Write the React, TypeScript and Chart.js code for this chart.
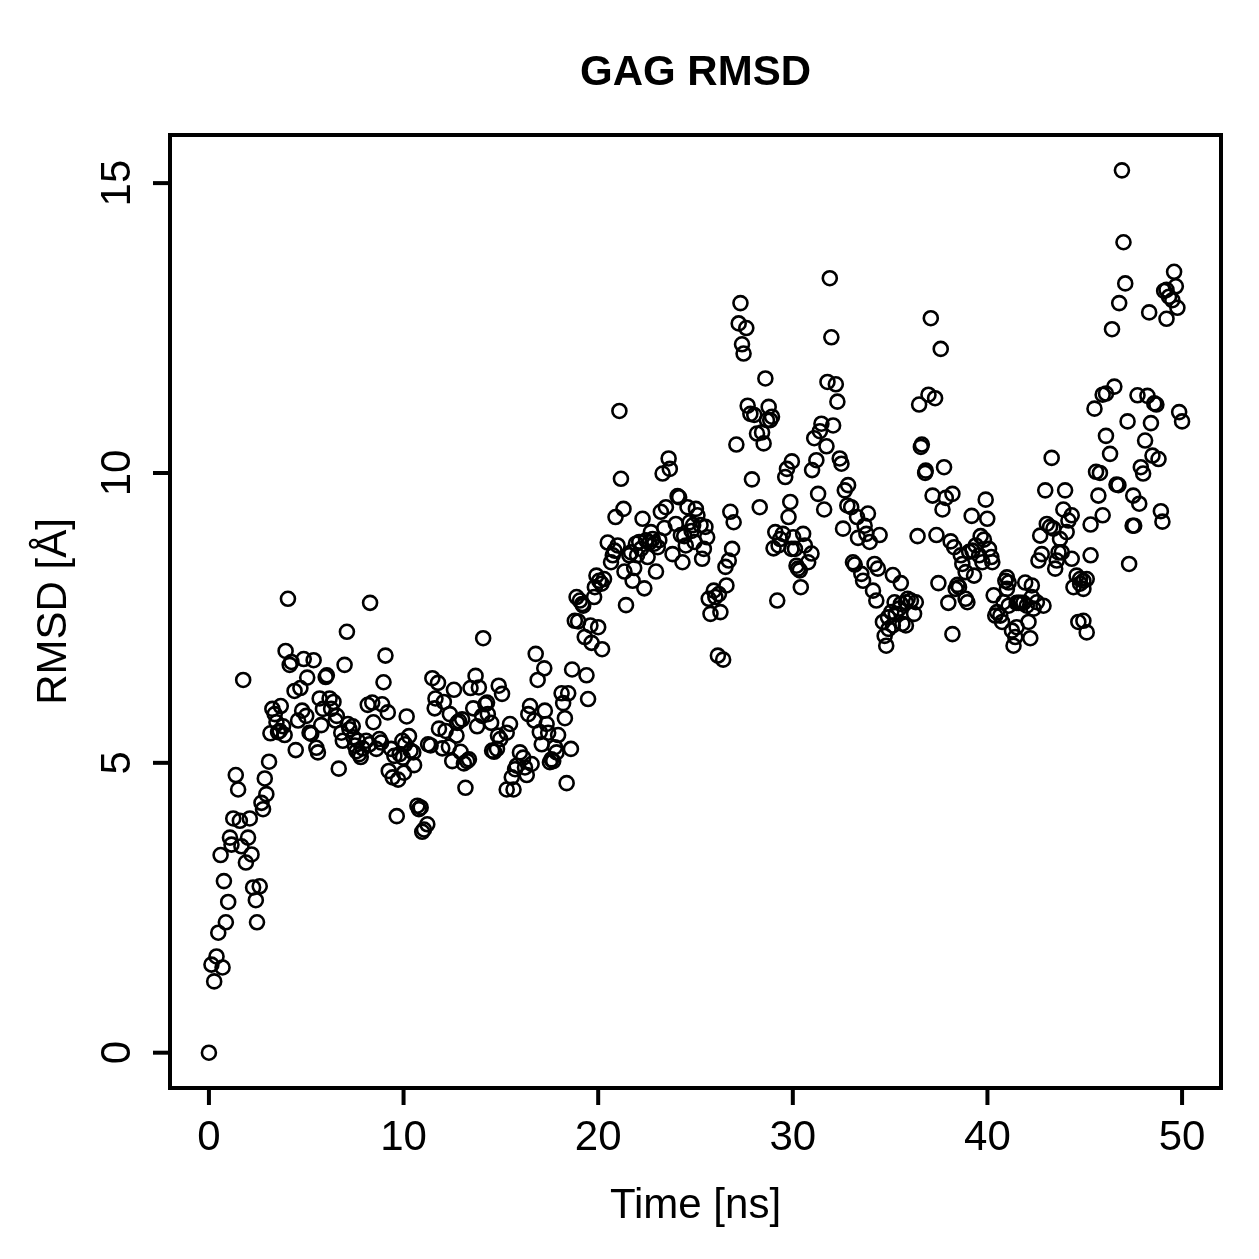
import React, { useEffect, useRef } from "react";
import { Chart, registerables } from "chart.js";

Chart.register(...registerables);

const chartTitle = "GAG RMSD";
const xAxisTitle = "Time [ns]";
const yAxisTitle = "RMSD [Å]";
const xTicks = [0, 10, 20, 30, 40, 50];
const yTicks = [0, 5, 10, 15];
const xRange = [-2, 52];
const yRange = [-0.609, 15.83];

// Time (ns) of each sample
const times = [
  0, 0.13, 0.27, 0.39, 0.48, 0.6, 0.7, 0.77, 0.87, 0.99,
  1.08, 1.16, 1.25, 1.38, 1.5, 1.59, 1.67, 1.76, 1.9, 2.01,
  2.1, 2.19, 2.27, 2.41, 2.47, 2.61, 2.7, 2.78, 2.87, 2.95,
  3.09, 3.16, 3.26, 3.38, 3.47, 3.55, 3.64, 3.69, 3.81, 3.89,
  3.94, 4.06, 4.15, 4.24, 4.4, 4.46, 4.58, 4.7, 4.79, 4.87,
  5.0, 5.05, 5.17, 5.26, 5.38, 5.52, 5.6, 5.69, 5.77, 5.86,
  6.0, 6.06, 6.2, 6.28, 6.4, 6.5, 6.57, 6.67, 6.8, 6.88,
  6.97, 7.09, 7.14, 7.22, 7.39, 7.42, 7.5, 7.58, 7.65, 7.72,
  7.8, 7.9, 8.08, 8.16, 8.25, 8.28, 8.39, 8.45, 8.6, 8.76,
  8.85, 8.9, 8.97, 9.07, 9.19, 9.24, 9.36, 9.44, 9.53, 9.65,
  9.72, 9.8, 9.94, 9.97, 10.02, 10.08, 10.16, 10.28, 10.36, 10.5,
  10.54, 10.71, 10.79, 10.88, 10.96, 11.05, 11.22, 11.26, 11.39, 11.48,
  11.6, 11.64, 11.77, 11.82, 11.99, 12.07, 12.16, 12.33, 12.38, 12.5,
  12.59, 12.72, 12.76, 12.85, 12.93, 13.01, 13.1, 13.18, 13.27, 13.36,
  13.44, 13.58, 13.7, 13.78, 13.87, 14.04, 14.09, 14.2, 14.29, 14.33,
  14.5, 14.55, 14.65, 14.8, 14.85, 14.89, 14.97, 15.06, 15.3, 15.3,
  15.47, 15.56, 15.65, 15.73, 15.81, 15.98, 16.15, 16.24, 16.33, 16.41,
  16.5, 16.58, 16.72, 16.79, 16.89, 17.0, 17.1, 17.23, 17.26, 17.35,
  17.43, 17.52, 17.6, 17.69, 17.78, 17.86, 17.94, 18.12, 18.2, 18.29,
  18.38, 18.46, 18.6, 18.66, 18.8, 18.89, 18.97, 19.06, 19.18, 19.23,
  19.31, 19.4, 19.48, 19.6, 19.66, 19.79, 19.83, 19.91, 20.0, 20.05,
  20.17, 20.2, 20.3, 20.49, 20.66, 20.75, 20.84, 20.89, 21.0, 21.09,
  21.17, 21.3, 21.35, 21.43, 21.6, 21.69, 21.77, 21.85, 21.94, 22.0,
  22.11, 22.2, 22.28, 22.37, 22.46, 22.54, 22.63, 22.71, 22.8, 22.88,
  22.97, 23.06, 23.14, 23.22, 23.31, 23.4, 23.48, 23.62, 23.68, 23.82,
  23.99, 24.08, 24.16, 24.25, 24.33, 24.42, 24.5, 24.59, 24.7, 24.8,
  24.88, 24.95, 25.02, 25.1, 25.26, 25.34, 25.43, 25.51, 25.6, 25.68,
  25.77, 25.94, 26.02, 26.15, 26.2, 26.28, 26.42, 26.54, 26.59, 26.71,
  26.79, 26.88, 26.96, 27.1, 27.22, 27.31, 27.39, 27.47, 27.61, 27.68,
  27.82, 27.9, 28.02, 28.16, 28.3, 28.42, 28.5, 28.59, 28.67, 28.76,
  28.84, 28.93, 29.01, 29.1, 29.2, 29.27, 29.35, 29.49, 29.61, 29.7,
  29.78, 29.87, 29.93, 29.95, 30.02, 30.11, 30.19, 30.27, 30.36, 30.41,
  30.53, 30.62, 30.79, 30.96, 30.99, 31.1, 31.21, 31.3, 31.39, 31.47,
  31.61, 31.73, 31.78, 31.9, 31.98, 32.07, 32.21, 32.29, 32.41, 32.5,
  32.58, 32.67, 32.8, 32.84, 33.0, 33.09, 33.18, 33.3, 33.35, 33.52,
  33.61, 33.69, 33.78, 33.86, 33.95, 34.12, 34.2, 34.29, 34.37, 34.46,
  34.63, 34.72, 34.8, 34.89, 34.92, 35.06, 35.14, 35.14, 35.23, 35.29,
  35.46, 35.55, 35.55, 35.63, 35.81, 35.81, 35.9, 36.07, 36.23, 36.32,
  36.41, 36.49, 36.58, 36.63, 36.8, 36.83, 36.97, 37.09, 37.18, 37.31,
  37.38, 37.48, 37.6, 37.69, 37.77, 37.86, 37.99, 38.11, 38.2, 38.2,
  38.29, 38.37, 38.46, 38.54, 38.63, 38.71, 38.88, 38.88, 38.97, 39.06,
  39.19, 39.23, 39.31, 39.4, 39.57, 39.65, 39.74, 39.82, 39.91, 39.99,
  40.08, 40.2, 40.25, 40.32, 40.4, 40.49, 40.66, 40.75, 40.83, 40.92,
  41.0, 41.0, 41.09, 41.09, 41.26, 41.34, 41.43, 41.5, 41.5, 41.6,
  41.7, 41.85, 41.94, 42.02, 42.11, 42.2, 42.28, 42.28, 42.37, 42.54,
  42.62, 42.71, 42.79, 42.88, 42.97, 43.05, 43.22, 43.3, 43.39, 43.48,
  43.56, 43.65, 43.73, 43.82, 43.9, 43.99, 44.07, 44.16, 44.33, 44.33,
  44.42, 44.58, 44.67, 44.76, 44.76, 44.93, 44.93, 44.93, 45.1, 45.1,
  45.3, 45.3, 45.5, 45.58, 45.7, 45.78, 45.92, 45.92, 46.09, 46.09,
  46.3, 46.4, 46.52, 46.63, 46.73, 46.77, 46.91, 46.99, 47.08, 47.2,
  47.28, 47.46, 47.49, 47.54, 47.71, 47.8, 47.88, 48.0, 48.1, 48.22,
  48.31, 48.4, 48.48, 48.57, 48.68, 48.79, 48.91, 48.99, 49.08, 49.2,
  49.2, 49.33, 49.5, 49.59, 49.68, 49.76, 49.85, 50.0,
];

// RMSD (Å) of each sample
const rmsd = [
  0, 1.52, 1.23, 1.66, 2.07, 3.41, 1.47, 2.96, 2.25, 2.6,
  3.71, 3.59, 4.04, 4.79, 4.54, 4.0, 3.56, 6.43, 3.28, 3.71,
  4.04, 3.42, 2.85, 2.63, 2.25, 2.87, 4.31, 4.2, 4.73, 4.46,
  5.02, 5.51, 5.93, 5.84, 5.7, 5.53, 5.55, 5.98, 5.63, 5.48,
  6.93, 7.83, 6.69, 6.74, 6.24, 5.22, 5.73, 6.29, 5.9, 6.79,
  5.81, 6.47, 5.52, 5.5, 6.77, 5.26, 5.18, 6.11, 5.65, 5.93,
  6.48, 6.51, 6.11, 5.93, 6.05, 5.73, 5.81, 4.9, 5.52, 5.38,
  6.69, 7.26, 5.67, 5.58, 5.63, 5.44, 5.3, 5.2, 5.38, 5.15,
  5.1, 5.25, 5.38, 6.0, 5.32, 7.76, 6.04, 5.7, 5.24, 5.41,
  5.35, 6.01, 6.39, 6.85, 5.87, 4.86, 5.24, 4.75, 5.12, 4.08,
  4.71, 5.15, 5.38, 5.09, 4.83, 5.32, 5.8, 5.46, 5.21, 5.18,
  4.96, 4.26, 4.2, 4.23, 3.81, 3.85, 3.94, 5.32, 5.3, 6.46,
  5.94, 6.11, 6.38, 5.59, 5.25, 6.05, 5.55, 5.28, 5.84, 5.03,
  6.26, 5.47, 5.69, 5.72, 5.19, 5.75, 4.99, 4.57, 5.03, 5.06,
  6.29, 5.94, 6.5, 5.63, 6.3, 5.81, 7.15, 6.01, 6.04, 5.84,
  5.69, 5.21, 5.19, 5.24, 5.47, 6.33, 5.41, 6.19, 4.54, 5.52,
  5.67, 4.75, 4.54, 4.89, 4.95, 5.18, 5.09, 4.92, 4.79, 5.84,
  5.98, 4.98, 5.73, 6.88, 6.43, 5.53, 5.32, 6.63, 5.9, 5.67,
  5.52, 5.01, 5.06, 5.03, 5.27, 5.18, 5.48, 6.2, 6.03, 5.77,
  4.65, 6.2, 5.24, 6.61, 7.45, 7.86, 7.44, 7.8, 7.74, 7.71,
  7.17, 6.51, 6.1, 7.37, 7.07, 7.86, 8.03, 8.23, 7.34, 8.14,
  8.09, 6.96, 8.17, 8.8, 8.46, 8.58, 8.66, 9.24, 8.75, 11.07,
  9.9, 9.38, 8.3, 7.72, 8.58, 8.63, 8.14, 8.36, 8.78, 8.58,
  8.81, 8.69, 9.21, 8.01, 8.84, 8.55, 8.8, 8.98, 8.86, 8.78,
  8.3, 8.72, 8.84, 9.33, 9.99, 9.05, 9.41, 10.25, 10.07, 8.6,
  9.12, 9.6, 9.58, 8.93, 8.46, 8.91, 8.75, 9.41, 9.15, 9.0,
  9.1, 8.81, 9.38, 9.27, 9.1, 8.52, 8.69, 9.07, 8.89, 7.83,
  7.57, 7.97, 7.86, 6.85, 7.91, 7.6, 6.78, 8.38, 8.06, 8.49,
  9.33, 8.69, 9.15, 10.49, 12.58, 12.93, 12.22, 12.06, 12.5, 11.16,
  11.02, 9.89, 11.0, 10.68, 9.41, 10.7, 10.51, 11.63, 10.91, 11.14,
  10.91, 10.97, 8.7, 8.98, 7.8, 8.75, 8.86, 8.95, 9.93, 10.07,
  9.24, 9.5, 8.69, 10.2, 8.89, 8.69, 8.4, 8.35, 8.32, 8.03,
  8.95, 8.75, 8.46, 8.61, 10.05, 10.6, 10.22, 9.64, 10.72, 10.85,
  9.37, 10.46, 11.57, 13.36, 12.34, 10.82, 11.53, 11.23, 10.25, 10.16,
  9.04, 9.7, 9.44, 9.79, 9.41, 8.46, 8.42, 9.24, 8.88, 8.26,
  8.14, 9.09, 8.95, 9.3, 8.81, 7.97, 8.43, 7.8, 8.35, 8.93,
  7.43, 7.19, 7.02, 7.51, 7.31, 7.6, 7.37, 8.24, 7.77, 7.57,
  7.66, 7.74, 8.1, 7.4, 7.77, 7.37, 7.83, 7.8, 7.57, 7.77,
  8.91, 11.18, 10.45, 10.49, 10.0, 10.04, 11.35, 12.67, 9.61, 11.29,
  8.93, 8.1, 12.14, 9.37, 10.1, 9.57, 7.76, 8.82, 9.64, 7.22,
  8.72, 8.0, 8.07, 8.03, 8.58, 8.43, 8.29, 7.83, 7.77, 8.64,
  9.26, 8.66, 8.23, 8.75, 8.58, 8.91, 8.46, 8.85, 9.54, 9.21,
  8.69, 8.55, 8.46, 7.89, 7.54, 7.6, 7.54, 7.43, 7.77, 8.14,
  8.2, 8.0, 8.11, 7.71, 7.28, 7.02, 7.17, 7.34, 7.76, 7.76,
  7.76, 7.76, 8.11, 7.71, 7.43, 7.15, 8.06, 7.86, 7.66, 7.77,
  8.49, 8.92, 8.6, 7.71, 9.7, 9.12, 9.07, 10.26, 9.04, 8.35,
  8.49, 8.63, 8.86, 8.63, 9.37, 9.7, 8.98, 9.18, 9.27, 8.52,
  8.03, 8.23, 7.43, 8.17, 8.09, 8.14, 8.0, 7.45, 8.17, 7.25,
  9.11, 8.58, 11.11, 10.02, 9.61, 10.0, 11.35, 9.27, 11.37, 10.64,
  10.33, 12.48, 11.49, 9.8, 9.79, 12.93, 15.22, 13.98, 13.27, 10.89,
  8.43, 9.09, 9.61, 9.09, 11.34, 9.47, 10.1, 9.99, 10.56, 11.33,
  12.77, 10.86, 10.3, 11.2, 11.18, 10.24, 9.34, 9.16, 13.14, 13.16,
  12.66, 13.04, 12.98, 13.47, 13.22, 12.85, 11.05, 10.89,
];

const FONT = '"Liberation Sans", Arial, Helvetica, sans-serif';

const rFrame = {
  id: "rFrame",
  afterDraw(chart: any) {
    const { ctx, chartArea: a, scales } = chart;
    const xs = scales.x;
    const ys = scales.y;
    ctx.save();
    ctx.strokeStyle = "#000";
    ctx.fillStyle = "#000";
    ctx.lineWidth = 4;
    ctx.strokeRect(a.left, a.top, a.right - a.left, a.bottom - a.top);

    ctx.font = `42px ${FONT}`;
    ctx.textAlign = "center";
    ctx.textBaseline = "alphabetic";
    xTicks.forEach((v) => {
      const px = xs.getPixelForValue(v);
      ctx.beginPath();
      ctx.moveTo(px, a.bottom);
      ctx.lineTo(px, a.bottom + 17);
      ctx.stroke();
      ctx.fillText(String(v), px, a.bottom + 62);
    });
    yTicks.forEach((v) => {
      const py = ys.getPixelForValue(v);
      ctx.beginPath();
      ctx.moveTo(a.left, py);
      ctx.lineTo(a.left - 17, py);
      ctx.stroke();
      ctx.save();
      ctx.translate(a.left - 40, py);
      ctx.rotate(-Math.PI / 2);
      ctx.fillText(String(v), 0, 0);
      ctx.restore();
    });

    const cx = (a.left + a.right) / 2;
    const cy = (a.top + a.bottom) / 2;
    ctx.fillText(xAxisTitle, cx, a.bottom + 130);
    ctx.save();
    ctx.translate(a.left - 104, cy);
    ctx.rotate(-Math.PI / 2);
    ctx.fillText(yAxisTitle, 0, 0);
    ctx.restore();

    ctx.font = `bold 42px ${FONT}`;
    ctx.fillText(chartTitle, cx, a.top - 50);
    ctx.restore();
  },
};

export default function App() {
  const canvasRef = useRef<HTMLCanvasElement | null>(null);

  useEffect(() => {
    const canvas = canvasRef.current;
    if (!canvas) return;
    const points = times.map((t, i) => ({ x: t, y: rmsd[i] }));
    const chart = new Chart(canvas, {
      type: "scatter",
      data: {
        datasets: [
          {
            data: points,
            borderColor: "#000",
            backgroundColor: "rgba(0,0,0,0)",
          },
        ],
      },
      options: {
        responsive: false,
        animation: false,
        devicePixelRatio: 1,
        elements: {
          point: {
            pointStyle: "circle",
            radius: 7,
            hoverRadius: 7,
            borderWidth: 2.6,
            hoverBorderWidth: 2.6,
            borderColor: "#000",
            backgroundColor: "rgba(0,0,0,0)",
          },
        },
        layout: { padding: { left: 170, right: 38, top: 135, bottom: 171 } },
        plugins: {
          legend: { display: false },
          tooltip: { enabled: false },
          title: { display: false },
        },
        scales: {
          x: { type: "linear", min: xRange[0], max: xRange[1], display: false },
          y: { type: "linear", min: yRange[0], max: yRange[1], display: false },
        },
      },
      plugins: [rFrame],
    });
    return () => chart.destroy();
  }, []);

  return (
    <div style={{ position: "absolute", left: 0, top: 0, width: 1259, height: 1259, background: "#fff" }}>
      <canvas ref={canvasRef} width={1259} height={1259} style={{ display: "block" }} />
    </div>
  );
}
